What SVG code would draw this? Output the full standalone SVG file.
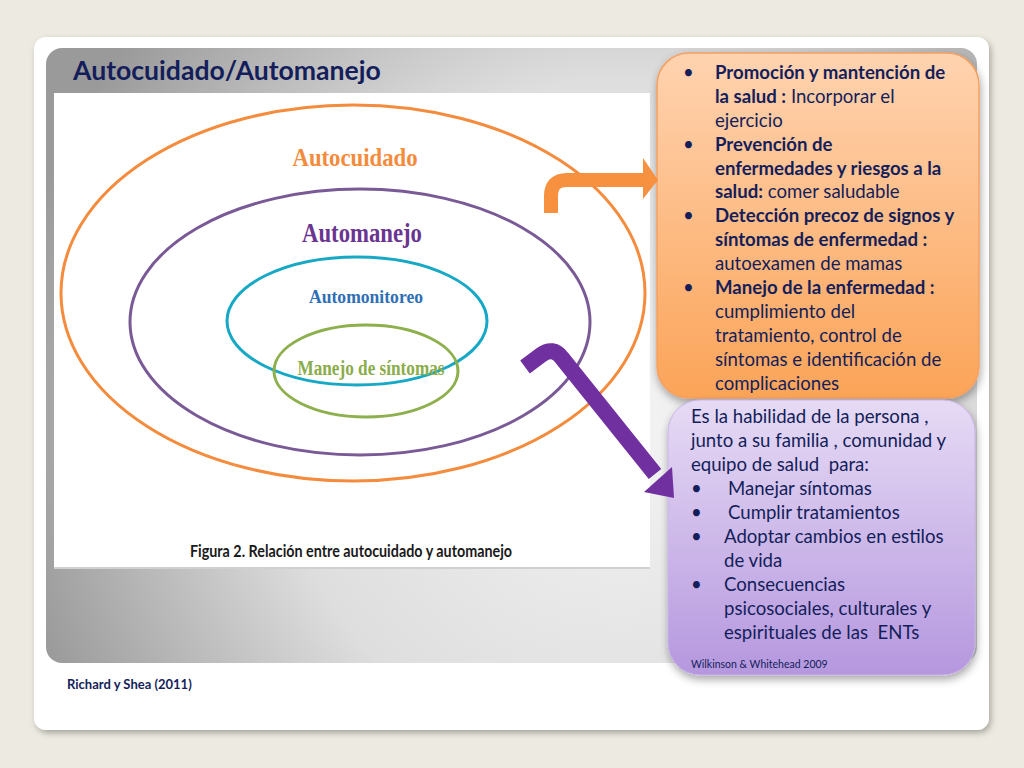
<svg xmlns="http://www.w3.org/2000/svg" width="1024" height="768" viewBox="0 0 1024 768">
<defs>
<style>
.nav{fill:#141e5a;font-family:Lato,"Open Sans","Liberation Sans",sans-serif}
.bx{font-size:18.6px}
.b{font-weight:bold}
.pre{white-space:pre}
.lbl{font-family:"Liberation Serif",serif;font-weight:bold;text-anchor:middle}
.ell{fill:none}
</style>
<radialGradient id="panel" cx="620" cy="420" r="620" gradientUnits="userSpaceOnUse">
<stop offset="0" stop-color="#f4f4f4"/>
<stop offset="0.55" stop-color="#dedede"/>
<stop offset="1" stop-color="#9a9a9a"/>
</radialGradient>
<linearGradient id="og" x1="0" y1="0" x2="0" y2="1">
<stop offset="0" stop-color="#ffd3b0"/>
<stop offset="1" stop-color="#fba458"/>
</linearGradient>
<linearGradient id="pg" x1="0" y1="0" x2="0" y2="1">
<stop offset="0" stop-color="#e6dbf5"/>
<stop offset="1" stop-color="#b597de"/>
</linearGradient>
<filter id="sh" x="-10%" y="-10%" width="120%" height="120%">
<feDropShadow dx="2" dy="3" stdDeviation="3" flood-color="#000" flood-opacity="0.3"/>
</filter>
<filter id="sh2" x="-10%" y="-10%" width="120%" height="120%">
<feDropShadow dx="1" dy="4" stdDeviation="4" flood-color="#000" flood-opacity="0.35"/>
</filter>
</defs>
<rect width="1024" height="768" fill="#edebe1"/>
<rect x="34" y="37" width="955" height="693" rx="12" fill="#ffffff" filter="url(#sh)"/>
<rect x="46" y="48" width="931" height="615" rx="16" fill="url(#panel)"/>
<text x="73" y="80" class="nav b" style="font-size:26.6px" fill="#0f1f5a">Autocuidado/Automanejo</text>
<rect x="54" y="93" width="596" height="475" fill="#ffffff"/>
<line x1="54" y1="568" x2="650" y2="568" stroke="#d0d0d0" stroke-width="2"/>

<g id="autocuidado">
<ellipse class="ell" cx="353" cy="293" rx="292" ry="188" stroke="#f58b3c" stroke-width="3"/>
<text class="lbl" x="355" y="166" font-size="25" fill="#f58b3c" textLength="125" lengthAdjust="spacingAndGlyphs">Autocuidado</text>
</g>
<g id="automanejo">
<ellipse class="ell" cx="360" cy="322" rx="230" ry="133" stroke="#7a5a96" stroke-width="3"/>
<text class="lbl" x="362" y="242" font-size="27" fill="#6a3590" textLength="120" lengthAdjust="spacingAndGlyphs">Automanejo</text>
</g>
<g id="automonitoreo">
<ellipse class="ell" cx="357" cy="321" rx="130" ry="64" stroke="#16a8c4" stroke-width="3"/>
<text class="lbl" x="366" y="303" font-size="19" fill="#2f6fb5" textLength="114" lengthAdjust="spacingAndGlyphs">Automonitoreo</text>
</g>
<g id="manejo-sintomas">
<ellipse class="ell" cx="366" cy="371" rx="92" ry="46" stroke="#8db04c" stroke-width="3" fill="#ffffff"/>
<text class="lbl" x="371" y="375" font-size="20" fill="#8aac4a" textLength="147" lengthAdjust="spacingAndGlyphs">Manejo de síntomas</text>
</g>
<text x="190" y="557" font-family="Lato,'Open Sans',sans-serif" font-weight="bold" font-size="17" fill="#1a1a1a" textLength="322" lengthAdjust="spacingAndGlyphs">Figura 2. Relación entre autocuidado y automanejo</text>

<g id="promocion">
<rect x="657" y="53" width="322" height="345" rx="32" fill="url(#og)" stroke="#f5a060" stroke-width="1.5" filter="url(#sh2)"/>
<g class="nav bx">
<text x="683" y="79">•</text><text x="715" y="79" class="b">Promoción y mantención de</text>
<text x="715" y="103"><tspan class="b">la salud :</tspan> Incorporar el</text>
<text x="715" y="127">ejercicio</text>
<text x="683" y="151">•</text><text x="715" y="151" class="b">Prevención de</text>
<text x="715" y="175" class="b">enfermedades y riesgos a la</text>
<text x="715" y="198"><tspan class="b">salud:</tspan> comer saludable</text>
<text x="683" y="222">•</text><text x="715" y="222" class="b">Detección precoz de signos y</text>
<text x="715" y="246" class="b">síntomas de enfermedad :</text>
<text x="715" y="270">autoexamen de mamas</text>
<text x="683" y="294">•</text><text x="715" y="294" class="b">Manejo de la enfermedad :</text>
<text x="715" y="318">cumplimiento del</text>
<text x="715" y="342">tratamiento, control de</text>
<text x="715" y="366">síntomas e identificación de</text>
<text x="715" y="390">complicaciones</text>
</g>
</g>

<g id="habilidad">
<rect x="668" y="400" width="307" height="275" rx="32" fill="url(#pg)" stroke="#c8b4e6" stroke-width="1" filter="url(#sh2)"/>
<g class="nav bx">
<text x="691" y="423">Es la habilidad de la persona ,</text>
<text x="691" y="447">junto a su familia , comunidad y</text>
<text x="691" y="471" class="pre">equipo de salud  para:</text>
<text x="691" y="495">•</text><text x="728" y="495">Manejar síntomas</text>
<text x="691" y="519">•</text><text x="728" y="519">Cumplir tratamientos</text>
<text x="691" y="543">•</text><text x="724" y="543">Adoptar cambios en estilos</text>
<text x="724" y="567">de vida</text>
<text x="691" y="591">•</text><text x="724" y="591">Consecuencias</text>
<text x="724" y="615">psicosociales, culturales y</text>
<text x="724" y="639" class="pre">espirituales de las  ENTs</text>
</g>
<text x="691" y="668" class="nav" font-size="10.5">Wilkinson &amp; Whitehead 2009</text>
</g>

<g id="connectors">
<path d="M551 213 V196 Q551 180 567 180 H644" fill="none" stroke="#f7913f" stroke-width="14"/>
<polygon points="643,158 658,180 643,199" fill="#f7913f"/>
<path d="M525 367 L541 355 Q553 346 562 358 L655 474" fill="none" stroke="#7030a0" stroke-width="16"/>
<polygon points="644,492 674,498 672,467" fill="#7030a0"/>
</g>

<text x="67" y="689" class="nav b" font-size="13">Richard y Shea (2011)</text>
</svg>
